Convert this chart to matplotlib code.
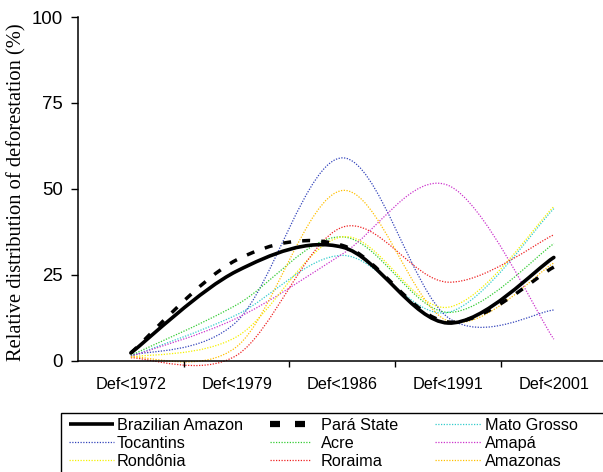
import numpy as np
import matplotlib
matplotlib.use("Agg")
import matplotlib.pyplot as plt
from matplotlib.path import Path
from matplotlib.patches import PathPatch, Rectangle
from matplotlib.lines import Line2D

categories = ["Def<1972", "Def<1979", "Def<1986", "Def<1991", "Def<2001"]
brazilian_amazon = [2.2, 26.0, 33.0, 10.9, 30.0]
para_state = [2.2, 29.3, 33.5, 11.2, 27.2]
mato_grosso = [1.2, 13.3, 30.6, 14.0, 44.2]
tocantins = [1.5, 11.3, 59.0, 12.5, 14.7]
acre = [1.5, 16.2, 36.0, 14.0, 34.0]
amapa = [1.2, 12.3, 31.0, 51.0, 6.2]
rondonia = [1.0, 6.9, 36.0, 15.5, 44.8]
roraima = [0.8, 1.5, 38.8, 22.8, 36.6]
amazonas = [1.0, 4.0, 49.5, 11.5, 28.4]
yticks = [0, 25, 50, 75, 100]

W, H = 603, 472
fig = plt.figure(figsize=(W / 100, H / 100), dpi=100)
ax = fig.add_axes([78 / W, 1 - 360.5 / H, 1 - 78 / W, (360.5 - 17) / H])


def smooth_path(ys):
    xs = np.arange(len(ys), dtype=float)
    P = np.column_stack([xs, np.asarray(ys, float)])
    n = len(P)
    verts = [P[0]]
    codes = [Path.MOVETO]
    for i in range(n - 1):
        p0 = P[i - 1] if i > 0 else P[i]
        p1 = P[i]
        p2 = P[i + 1]
        p3 = P[i + 2] if i + 2 < n else P[i + 1]
        c1 = p1 + (p2 - p0) / 6.0
        c2 = p2 - (p3 - p1) / 6.0
        verts += [c1, c2, p2]
        codes += [Path.CURVE4] * 3
    return Path(np.array(verts), codes)


series = [
    ("Mato Grosso", mato_grosso, "#33CCCC"),
    ("Tocantins", tocantins, "#3344BB"),
    ("Acre", acre, "#33CC33"),
    ("Amapá", amapa, "#CC33CC"),
    ("Rondônia", rondonia, "#F5F000"),
    ("Roraima", roraima, "#EE2222"),
    ("Amazonas", amazonas, "#FFC000"),
]

for name, vals, col in series:
    ax.add_patch(PathPatch(smooth_path(vals), fill=False, edgecolor=col,
                           lw=0.9, linestyle=(0, (1, 1.2)), clip_on=False))

ax.add_patch(PathPatch(smooth_path(para_state), fill=False, edgecolor="black",
                       lw=2.5, linestyle=(0, (2.3, 3.2)), capstyle="butt", clip_on=False))
ax.add_patch(PathPatch(smooth_path(brazilian_amazon), fill=False, edgecolor="black",
                       lw=2.6, capstyle="round", joinstyle="round", clip_on=False))

ax.set_xlim(-0.5, 4.465)
ax.set_ylim(0, 100)
ax.set_yticks(yticks)
ax.set_yticklabels([str(v) for v in yticks], fontsize=13.4, family="Liberation Sans")
ax.set_xticks(range(len(categories)))
ax.set_xticklabels(categories, fontsize=11.7, family="Liberation Sans")
ax.set_xticks(np.arange(0.5, len(categories) - 0.5, 1.0), minor=True)
ax.tick_params(axis="x", which="major", length=0, pad=12)
ax.tick_params(axis="x", which="minor", length=4.5, width=1, direction="out")
ax.tick_params(axis="y", length=5, width=1, direction="out", pad=6)
for s in ["top", "right"]:
    ax.spines[s].set_visible(False)
for s in ["left", "bottom"]:
    ax.spines[s].set_linewidth(1.1)
ax.set_ylabel("Relative distribution of deforestation (%)", family="Liberation Serif",
              fontsize=14.8)
ax.yaxis.set_label_coords(-(78 - 26) / (W - 78), 0.49)

# legend (manual layout)
fig.add_artist(Rectangle((61.5 / W, -0.1), 1.2, (1 - 412.7 / H) + 0.1,
                         transform=fig.transFigure, fill=False, edgecolor="black",
                         lw=1.0))
legend_items = [
    ("Brazilian Amazon", dict(color="black", lw=2.6, ls="-")),
    ("Pará State", dict(color="black", lw=4.5, ls=(0, (1.6, 2.4)))),
    ("Mato Grosso", dict(color="#33CCCC", lw=0.9, ls=(0, (1, 1.2)))),
    ("Tocantins", dict(color="#3344BB", lw=0.9, ls=(0, (1, 1.2)))),
    ("Acre", dict(color="#33CC33", lw=0.9, ls=(0, (1, 1.2)))),
    ("Amapá", dict(color="#CC33CC", lw=0.9, ls=(0, (1, 1.2)))),
    ("Rondônia", dict(color="#F5F000", lw=0.9, ls=(0, (1, 1.2)))),
    ("Roraima", dict(color="#EE2222", lw=0.9, ls=(0, (1, 1.2)))),
    ("Amazonas", dict(color="#FFC000", lw=0.9, ls=(0, (1, 1.2)))),
]
col_x = [(68.5, 113.5, 117), (270, 311, 321), (435, 481, 485)]
row_y = [424.3, 442.3, 460.3]
for k, (label, style) in enumerate(legend_items):
    r, c = divmod(k, 3)
    x0, x1, xt = col_x[c]
    y = 1 - row_y[r] / H
    fig.add_artist(Line2D([x0 / W, x1 / W], [y, y], transform=fig.transFigure,
                          solid_capstyle="butt", dash_capstyle="butt", **style))
    fig.text(xt / W, y, label, fontsize=11.7, family="Liberation Sans",
             va="center_baseline", ha="left")

fig.savefig("out.png", dpi=100)
